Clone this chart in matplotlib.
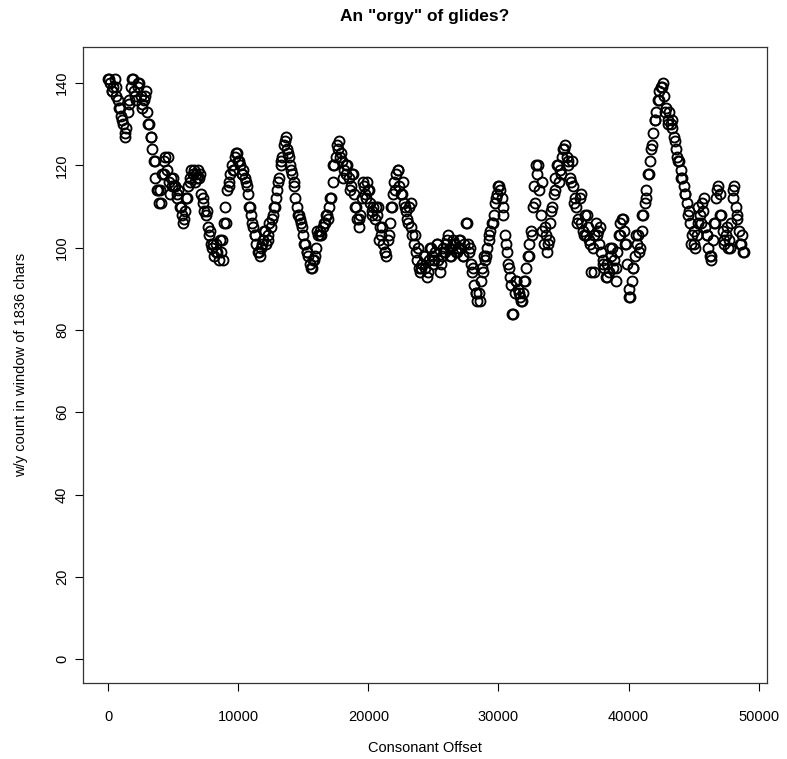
import numpy as np
import matplotlib
matplotlib.use("Agg")
import matplotlib.pyplot as plt

plt.rcParams['font.family'] = ['Liberation Sans', 'DejaVu Sans']

# sliding-window w/y counts, one value every 125 chars
# (one row = 1000 chars)
offset_step = 125
glide_counts = [
    141, 140, 138, 139, 141, 137, 136, 134,
    132, 130, 127, 129, 133, 136, 139, 141,
    138, 136, 139, 140, 137, 134, 136, 138,
    133, 130, 127, 124, 121, 117, 114, 111,
    114, 118, 121, 122, 119, 116, 113, 115,
    117, 115, 112, 114, 110, 108, 106, 109,
    112, 115, 117, 119, 118, 116, 118, 119,
    117, 113, 111, 109, 108, 105, 103, 101,
    100, 98, 101, 99, 97, 99, 102, 106,
    110, 114, 116, 118, 120, 119, 122, 123,
    121, 120, 118, 119, 117, 115, 113, 110,
    108, 105, 103, 101, 99, 98, 100, 102,
    104, 101, 103, 106, 105, 108, 110, 112,
    114, 117, 120, 122, 125, 127, 124, 122,
    120, 118, 116, 112, 110, 108, 107, 105,
    103, 101, 99, 98, 96, 95, 97, 98,
    100, 103, 104, 103, 105, 106, 108, 107,
    110, 112, 116, 120, 122, 124, 126, 123,
    121, 119, 118, 120, 117, 115, 118, 113,
    110, 107, 105, 108, 112, 115, 113, 116,
    114, 111, 109, 110, 107, 108, 110, 105,
    103, 101, 99, 98, 102, 106, 110, 113,
    116, 118, 119, 115, 113, 116, 111, 109,
    107, 110, 105, 103, 101, 99, 97, 95,
    94, 96, 98, 95, 93, 97, 100, 98,
    96, 99, 101, 97, 94, 98, 100, 99,
    101, 103, 100, 98, 102, 101, 99, 100,
    102, 100, 98, 101, 106, 101, 99, 96,
    94, 91, 89, 87, 89, 92, 95, 98,
    97, 100, 102, 104, 106, 108, 111, 113,
    115, 114, 112, 108, 103, 99, 96, 93,
    91, 84, 89, 92, 90, 88, 87, 89,
    92, 95, 98, 101, 104, 110, 115, 120,
    118, 114, 108, 104, 101, 103, 99, 102,
    106, 110, 113, 117, 120, 116, 119, 122,
    124, 125, 122, 120, 117, 121, 115, 112,
    110, 107, 112, 106, 104, 108, 103, 105,
    102, 94, 100, 103, 106, 104, 101, 99,
    97, 95, 93, 96, 94, 98, 100, 97,
    95, 99, 103, 106, 107, 104, 101, 96,
    90, 88, 92, 95, 98, 101, 103, 100,
    104, 108, 111, 114, 118, 121, 124, 128,
    131, 133, 136, 138, 139, 140, 137, 134,
    131, 133, 130, 129, 127, 124, 122, 121,
    119, 117, 115, 113, 111, 109, 106, 103,
    101, 100, 103, 106, 108, 111, 109, 105,
    103, 100, 98, 97, 102, 106, 112, 115,
    113, 108, 104, 101, 103, 100, 102, 106,
    112, 115, 110, 107, 104, 101, 103, 99,
]

# second reading of the band, one value every 250 chars, shifted by 60 chars
offset_step_b = 250
offset_shift_b = 60
glide_counts_b = [
    141, 138, 139, 134, 131, 128, 135, 141, 137, 140, 135, 137,
    130, 127, 121, 114, 111, 118, 122, 117, 115, 113, 110, 107,
    112, 116, 119, 117, 118, 112, 109, 104, 101, 99, 102, 97,
    106, 115, 119, 123, 121, 118, 116, 110, 106, 103, 99, 101,
    104, 102, 107, 110, 116, 121, 126, 123, 119, 115, 108, 106,
    101, 99, 95, 97, 104, 103, 106, 108, 112, 120, 125, 122,
    117, 120, 114, 118, 110, 107, 116, 112, 114, 108, 110, 102,
    105, 99, 103, 110, 114, 119, 113, 110, 106, 111, 103, 100,
    95, 98, 94, 100, 97, 101, 96, 99, 102, 98, 101, 99,
    102, 98, 106, 100, 95, 89, 87, 94, 98, 103, 106, 112,
    115, 110, 101, 95, 84, 92, 89, 87, 92, 98, 103, 111,
    120, 116, 105, 101, 109, 114, 120, 118, 124, 121, 116, 111,
    106, 113, 103, 108, 101, 94, 103, 105, 96, 93, 100, 95,
    92, 103, 107, 101, 88, 95, 103, 99, 108, 112, 118, 125,
    131, 136, 139, 133, 130, 131, 126, 121, 117, 113, 108, 101,
    104, 110, 106, 112, 103, 98, 106, 114, 108, 102, 105, 100,
    114, 108, 101, 99,
]
x_ticks = [0, 10000, 20000, 30000, 40000, 50000]
y_ticks = [0, 20, 40, 60, 80, 100, 120, 140]

offsets = np.arange(len(glide_counts)) * offset_step
offsets_b = np.arange(len(glide_counts_b)) * offset_step_b + offset_shift_b

W, H = 787, 759
fig = plt.figure(figsize=(W / 100, H / 100), dpi=100)
# plot box in pixels: left 83, right 767, top 47, bottom 683
ax = fig.add_axes([83 / W, (H - 683) / H, (767 - 83) / W, (683 - 47) / H])

marker_style = dict(linestyle='none', marker='o', markersize=7.2,
                    markerfacecolor='none', markeredgecolor='black',
                    markeredgewidth=1.35)
ax.plot(offsets, glide_counts, **marker_style)
ax.plot(offsets_b, glide_counts_b, **marker_style)

ax.set_xlim(-1950, 50650)
ax.set_ylim(-5.8, 148.8)
ax.set_xticks(x_ticks)
ax.set_yticks(y_ticks)
ax.set_xticklabels([str(v) for v in x_ticks])
ax.set_yticklabels([str(v) for v in y_ticks], rotation=90, va='center')
ax.tick_params(axis='both', direction='out', length=6, width=0.8,
               labelsize=10.5, colors='black')
ax.tick_params(axis='x', pad=13.5)
ax.tick_params(axis='y', pad=4)
for sp in ax.spines.values():
    sp.set_linewidth(0.9)
    sp.set_color('#333333')

fig.text(425 / W, 1 - 17 / H, 'An "orgy" of glides?', ha='center', va='center',
         fontsize=12.5, fontweight='bold')
fig.text(425 / W, 1 - 748 / H, 'Consonant Offset', ha='center', va='center',
         fontsize=10.5)
fig.text(21 / W, 1 - 365 / H, 'w/y count in window of 1836 chars', ha='center',
         va='center', rotation=90, fontsize=10.5)

fig.savefig('out.png', dpi=100)
